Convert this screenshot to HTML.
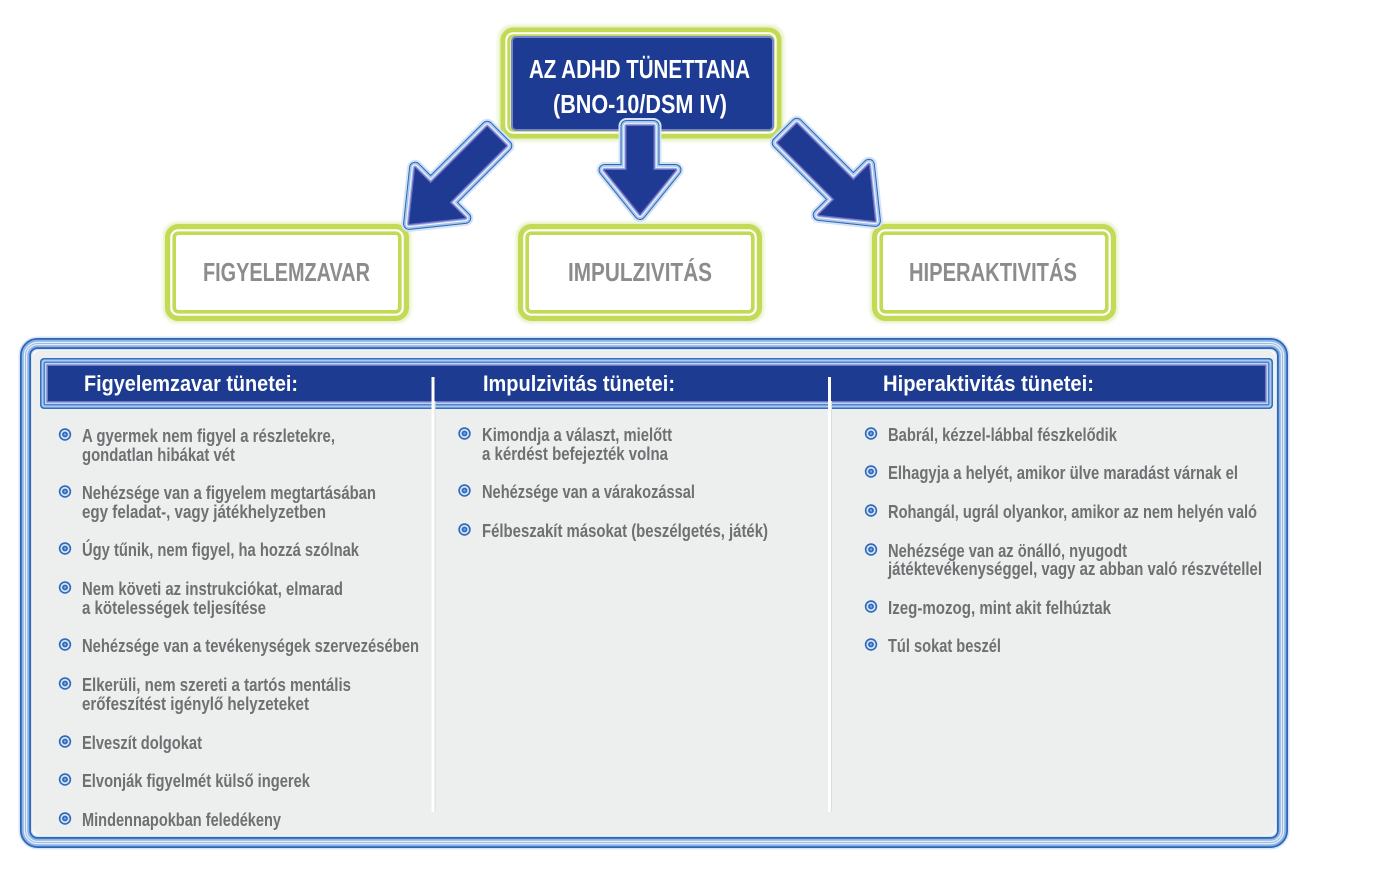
<!DOCTYPE html>
<html><head><meta charset="utf-8"><style>
html,body{margin:0;padding:0;background:#fff;}
svg{display:block;}
text{font-family:"Liberation Sans",sans-serif;font-weight:bold;}
</style></head><body>
<svg width="1396" height="879" viewBox="0 0 1396 879" xmlns="http://www.w3.org/2000/svg">
<defs>
<filter id="gl" x="-20%" y="-20%" width="140%" height="140%"><feGaussianBlur stdDeviation="1.6"/></filter>
</defs>
<rect width="1396" height="879" fill="#fff"/>

<!-- ===== Top title box ===== -->
<rect x="502" y="29" width="278" height="108" rx="10" fill="none" stroke="#e6f0c4" stroke-width="8" filter="url(#gl)"/>
<rect x="505.5" y="32.5" width="271" height="101" rx="8" fill="none" stroke="#c2da55" stroke-width="10"/>
<rect x="506.3" y="33.3" width="269.4" height="99.4" rx="7" fill="none" stroke="#fff" stroke-width="2"/>
<rect x="512" y="37" width="261" height="93" rx="4" fill="#1d3b92" stroke="#7484cf" stroke-width="2"/>
<text x="529" y="78" font-size="26" fill="#fff" textLength="221" lengthAdjust="spacingAndGlyphs">AZ ADHD TÜNETTANA</text>
<text x="553" y="113" font-size="26" fill="#fff" textLength="174" lengthAdjust="spacingAndGlyphs">(BNO-10/DSM IV)</text>

<!-- ===== Category boxes ===== -->
<g>
<rect x="167" y="226" width="240" height="93" rx="10" fill="none" stroke="#e6f0c4" stroke-width="8" filter="url(#gl)"/>
<rect x="170.5" y="229.5" width="233" height="86" rx="8" fill="#fff" stroke="#c2da55" stroke-width="11"/>
<rect x="171.3" y="230.3" width="231.4" height="84.4" rx="7" fill="none" stroke="#fff" stroke-width="2.2"/>
<text x="203" y="281" font-size="26" fill="#8b8c8e" textLength="167" lengthAdjust="spacingAndGlyphs">FIGYELEMZAVAR</text>
</g>
<g>
<rect x="520" y="226" width="240" height="93" rx="10" fill="none" stroke="#e6f0c4" stroke-width="8" filter="url(#gl)"/>
<rect x="523.5" y="229.5" width="233" height="86" rx="8" fill="#fff" stroke="#c2da55" stroke-width="11"/>
<rect x="524.3" y="230.3" width="231.4" height="84.4" rx="7" fill="none" stroke="#fff" stroke-width="2.2"/>
<text x="568" y="281" font-size="26" fill="#8b8c8e" textLength="144" lengthAdjust="spacingAndGlyphs">IMPULZIVITÁS</text>
</g>
<g>
<rect x="874" y="226" width="240" height="93" rx="10" fill="none" stroke="#e6f0c4" stroke-width="8" filter="url(#gl)"/>
<rect x="877.5" y="229.5" width="233" height="86" rx="8" fill="#fff" stroke="#c2da55" stroke-width="11"/>
<rect x="878.3" y="230.3" width="231.4" height="84.4" rx="7" fill="none" stroke="#fff" stroke-width="2.2"/>
<text x="909" y="281" font-size="26" fill="#8b8c8e" textLength="168" lengthAdjust="spacingAndGlyphs">HIPERAKTIVITÁS</text>
</g>

<!-- ===== Arrows ===== -->
<g stroke-linejoin="round">
  <g transform="translate(640,120)">
    <path d="M-13.5,6 L13.5,6 L13.5,50 L35.5,50 L0,94 L-35.5,50 L-13.5,50 Z" fill="none" stroke="#d3e3f7" stroke-width="16"/>
    <path d="M-13.5,6 L13.5,6 L13.5,50 L35.5,50 L0,94 L-35.5,50 L-13.5,50 Z" fill="none" stroke="#2d66b4" stroke-width="12"/>
    <path d="M-13.5,6 L13.5,6 L13.5,50 L35.5,50 L0,94 L-35.5,50 L-13.5,50 Z" fill="none" stroke="#a7c6ee" stroke-width="10"/>
    <path d="M-13.5,6 L13.5,6 L13.5,50 L35.5,50 L0,94 L-35.5,50 L-13.5,50 Z" fill="none" stroke="#f3f7fd" stroke-width="6.5"/>
    <path d="M-13.5,6 L13.5,6 L13.5,50 L35.5,50 L0,94 L-35.5,50 L-13.5,50 Z" fill="none" stroke="#a3b9e8" stroke-width="4.5"/>
    <path d="M-13.5,6 L13.5,6 L13.5,50 L35.5,50 L0,94 L-35.5,50 L-13.5,50 Z" fill="none" stroke="#6f6cc6" stroke-width="2.5"/>
    <path d="M-13.5,6 L13.5,6 L13.5,50 L35.5,50 L0,94 L-35.5,50 L-13.5,50 Z" fill="#1f3a93"/>
  </g>
  <g transform="translate(501,132) rotate(45)">
    <path d="M-13.5,6 L13.5,6 L13.5,86 L35.5,86 L0,130 L-35.5,86 L-13.5,86 Z" fill="none" stroke="#d3e3f7" stroke-width="16"/>
    <path d="M-13.5,6 L13.5,6 L13.5,86 L35.5,86 L0,130 L-35.5,86 L-13.5,86 Z" fill="none" stroke="#2d66b4" stroke-width="12"/>
    <path d="M-13.5,6 L13.5,6 L13.5,86 L35.5,86 L0,130 L-35.5,86 L-13.5,86 Z" fill="none" stroke="#a7c6ee" stroke-width="10"/>
    <path d="M-13.5,6 L13.5,6 L13.5,86 L35.5,86 L0,130 L-35.5,86 L-13.5,86 Z" fill="none" stroke="#f3f7fd" stroke-width="6.5"/>
    <path d="M-13.5,6 L13.5,6 L13.5,86 L35.5,86 L0,130 L-35.5,86 L-13.5,86 Z" fill="none" stroke="#a3b9e8" stroke-width="4.5"/>
    <path d="M-13.5,6 L13.5,6 L13.5,86 L35.5,86 L0,130 L-35.5,86 L-13.5,86 Z" fill="none" stroke="#6f6cc6" stroke-width="2.5"/>
    <path d="M-13.5,6 L13.5,6 L13.5,86 L35.5,86 L0,130 L-35.5,86 L-13.5,86 Z" fill="#1f3a93"/>
  </g>
  <g transform="translate(783,129) rotate(-45)">
    <path d="M-13.5,6 L13.5,6 L13.5,86 L35.5,86 L0,130 L-35.5,86 L-13.5,86 Z" fill="none" stroke="#d3e3f7" stroke-width="16"/>
    <path d="M-13.5,6 L13.5,6 L13.5,86 L35.5,86 L0,130 L-35.5,86 L-13.5,86 Z" fill="none" stroke="#2d66b4" stroke-width="12"/>
    <path d="M-13.5,6 L13.5,6 L13.5,86 L35.5,86 L0,130 L-35.5,86 L-13.5,86 Z" fill="none" stroke="#a7c6ee" stroke-width="10"/>
    <path d="M-13.5,6 L13.5,6 L13.5,86 L35.5,86 L0,130 L-35.5,86 L-13.5,86 Z" fill="none" stroke="#f3f7fd" stroke-width="6.5"/>
    <path d="M-13.5,6 L13.5,6 L13.5,86 L35.5,86 L0,130 L-35.5,86 L-13.5,86 Z" fill="none" stroke="#a3b9e8" stroke-width="4.5"/>
    <path d="M-13.5,6 L13.5,6 L13.5,86 L35.5,86 L0,130 L-35.5,86 L-13.5,86 Z" fill="none" stroke="#6f6cc6" stroke-width="2.5"/>
    <path d="M-13.5,6 L13.5,6 L13.5,86 L35.5,86 L0,130 L-35.5,86 L-13.5,86 Z" fill="#1f3a93"/>
  </g>
</g>

<!-- ===== Big panel ===== -->
<rect x="30" y="348" width="1248" height="490" rx="9" fill="#edeeee"/>
<rect x="32" y="350" width="1244" height="486" rx="8" fill="none" stroke="#fff" stroke-width="2"/>
<rect x="25.5" y="343.5" width="1257" height="499" rx="12" fill="none" stroke="#d6e5f6" stroke-width="14"/>
<rect x="25.5" y="343.5" width="1257" height="499" rx="12" fill="none" stroke="#2c66b5" stroke-width="11"/>
<rect x="25.5" y="343.5" width="1257" height="499" rx="12" fill="none" stroke="#8fb4e4" stroke-width="7.5"/>
<rect x="25.5" y="343.5" width="1257" height="499" rx="12" fill="none" stroke="#e4eef9" stroke-width="3.5"/>
<rect x="25.5" y="343.5" width="1257" height="499" rx="12" fill="none" stroke="#9dbde8" stroke-width="1"/>

<!-- header bar -->
<rect x="40" y="358" width="1233" height="51" rx="4" fill="#3570c0"/>
<rect x="41.5" y="359.5" width="1230" height="48" rx="3" fill="#a9c8ee"/>
<rect x="43.5" y="361.5" width="1226" height="44" rx="2" fill="#4f84cc"/>
<rect x="45" y="363" width="1223" height="41" fill="#c4d2f0"/>
<rect x="46.5" y="364.5" width="1220" height="38" fill="#6b78c8"/>
<rect x="48" y="366" width="1217" height="35" fill="#1d3b91"/>

<text x="84" y="391" font-size="22" fill="#fff" textLength="214" lengthAdjust="spacingAndGlyphs">Figyelemzavar tünetei:</text>
<text x="483" y="391" font-size="22" fill="#fff" textLength="192" lengthAdjust="spacingAndGlyphs">Impulzivitás tünetei:</text>
<text x="883" y="391" font-size="22" fill="#fff" textLength="211" lengthAdjust="spacingAndGlyphs">Hiperaktivitás tünetei:</text>

<!-- separators -->
<rect x="431.5" y="377" width="3" height="435" fill="#fff"/>
<rect x="434.5" y="401" width="1" height="411" fill="#dcdede"/>
<rect x="828" y="377" width="3" height="435" fill="#fff"/>
<rect x="831" y="401" width="1" height="411" fill="#dcdede"/>

<!-- bullets -->
<defs>
<g id="b">
<circle r="6.2" fill="#2f69b9"/>
<circle r="4.6" fill="#d3e3f7"/>
<circle r="2.9" fill="#2f69b9"/>
<circle r="1.2" fill="#7ea8de"/>
</g>
</defs>
<use href="#b" x="65" y="434.5"/>
<use href="#b" x="65" y="491.5"/>
<use href="#b" x="65" y="548.5"/>
<use href="#b" x="65" y="587.5"/>
<use href="#b" x="65" y="644.5"/>
<use href="#b" x="65" y="683.5"/>
<use href="#b" x="65" y="741.5"/>
<use href="#b" x="65" y="779.5"/>
<use href="#b" x="65" y="818.5"/>

<use href="#b" x="464.5" y="433.5"/>
<use href="#b" x="464.5" y="490.5"/>
<use href="#b" x="464.5" y="529.5"/>

<use href="#b" x="871" y="433.5"/>
<use href="#b" x="871" y="471.5"/>
<use href="#b" x="871" y="510.5"/>
<use href="#b" x="871" y="549.5"/>
<use href="#b" x="871" y="606.5"/>
<use href="#b" x="871" y="644.5"/>

<!-- column 1 text -->
<g font-size="18" fill="#6f7072">
<text x="82" y="442" textLength="253" lengthAdjust="spacingAndGlyphs">A gyermek nem figyel a részletekre,</text>
<text x="82" y="461" textLength="153" lengthAdjust="spacingAndGlyphs">gondatlan hibákat vét</text>
<text x="82" y="499" textLength="294" lengthAdjust="spacingAndGlyphs">Nehézsége van a figyelem megtartásában</text>
<text x="82" y="518" textLength="244" lengthAdjust="spacingAndGlyphs">egy feladat-, vagy játékhelyzetben</text>
<text x="82" y="556" textLength="277" lengthAdjust="spacingAndGlyphs">Úgy tűnik, nem figyel, ha hozzá szólnak</text>
<text x="82" y="595" textLength="261" lengthAdjust="spacingAndGlyphs">Nem követi az instrukciókat, elmarad</text>
<text x="82" y="614" textLength="184" lengthAdjust="spacingAndGlyphs">a kötelességek teljesítése</text>
<text x="82" y="652" textLength="337" lengthAdjust="spacingAndGlyphs">Nehézsége van a tevékenységek szervezésében</text>
<text x="82" y="691" textLength="269" lengthAdjust="spacingAndGlyphs">Elkerüli, nem szereti a tartós mentális</text>
<text x="82" y="710" textLength="227" lengthAdjust="spacingAndGlyphs">erőfeszítést igénylő helyzeteket</text>
<text x="82" y="749" textLength="120" lengthAdjust="spacingAndGlyphs">Elveszít dolgokat</text>
<text x="82" y="787" textLength="228" lengthAdjust="spacingAndGlyphs">Elvonják figyelmét külső ingerek</text>
<text x="82" y="826" textLength="199" lengthAdjust="spacingAndGlyphs">Mindennapokban feledékeny</text>
</g>

<!-- column 2 text -->
<g font-size="18" fill="#6f7072">
<text x="482" y="441" textLength="190" lengthAdjust="spacingAndGlyphs">Kimondja a választ, mielőtt</text>
<text x="482" y="460" textLength="186" lengthAdjust="spacingAndGlyphs">a kérdést befejezték volna</text>
<text x="482" y="498" textLength="213" lengthAdjust="spacingAndGlyphs">Nehézsége van a várakozással</text>
<text x="482" y="537" textLength="286" lengthAdjust="spacingAndGlyphs">Félbeszakít másokat (beszélgetés, játék)</text>
</g>

<!-- column 3 text -->
<g font-size="18" fill="#6f7072">
<text x="888" y="441" textLength="229" lengthAdjust="spacingAndGlyphs">Babrál, kézzel-lábbal fészkelődik</text>
<text x="888" y="479" textLength="350" lengthAdjust="spacingAndGlyphs">Elhagyja a helyét, amikor ülve maradást várnak el</text>
<text x="888" y="518" textLength="369" lengthAdjust="spacingAndGlyphs">Rohangál, ugrál olyankor, amikor az nem helyén való</text>
<text x="888" y="557" textLength="239" lengthAdjust="spacingAndGlyphs">Nehézsége van az önálló, nyugodt</text>
<text x="888" y="575" textLength="374" lengthAdjust="spacingAndGlyphs">játéktevékenységgel, vagy az abban való részvétellel</text>
<text x="888" y="614" textLength="223" lengthAdjust="spacingAndGlyphs">Izeg-mozog, mint akit felhúztak</text>
<text x="888" y="652" textLength="113" lengthAdjust="spacingAndGlyphs">Túl sokat beszél</text>
</g>
</svg>
</body></html>
